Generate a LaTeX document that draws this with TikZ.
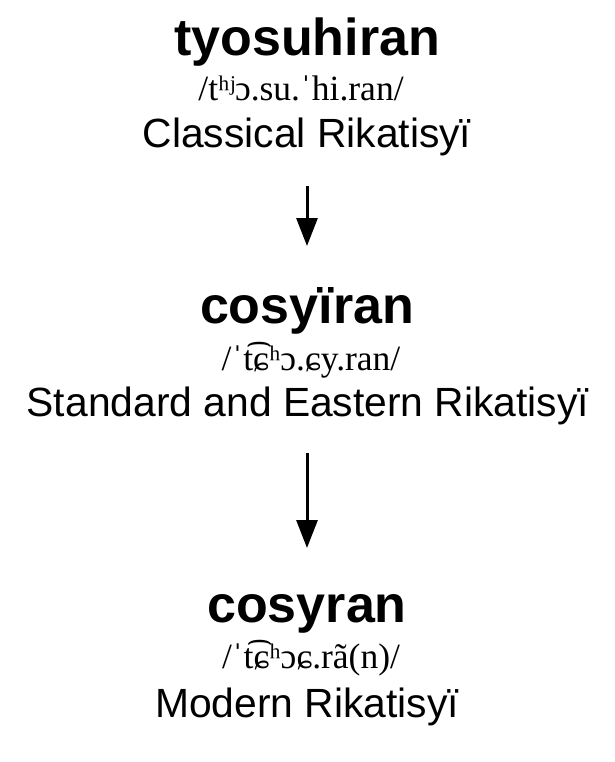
\documentclass[tikz,border=0pt]{standalone}
\usepackage{fontspec}
\setmainfont{Liberation Sans}
\newfontfamily\ipafont{Liberation Serif}
\usetikzlibrary{arrows.meta}
\tikzset{
  word/.style={anchor=base, inner sep=0pt, font=\fontsize{52}{60}\selectfont\bfseries},
  ipa/.style={anchor=base, inner sep=0pt, font=\fontsize{35.5}{40}\ipafont},
  lang/.style={anchor=base, inner sep=0pt, font=\fontsize{40.8}{46}\selectfont},
  evo/.style={line width=3pt, -{Triangle[length=28pt,width=21pt]}}
}
\begin{document}
\begin{tikzpicture}[x=1pt,y=1pt]
\useasboundingbox (0,0) rectangle (614,-762);
\node[word] (w1) at (307,-56) {tyosuhiran};
\node[ipa] (p1) at (301,-101) {/tʰʲɔ.su.ˈhi.ran/};
\node[lang] (l1) at (307,-148) {Classical Rikatisyï};
\node[word] (w2) at (307,-323) {cosyïran};
\node[ipa] (p2) at (311,-370) {/ˈt͡ɕʰɔ.ɕy.ran/};
\node[lang] (l2) at (308,-416) {Standard and Eastern Rikatisyï};
\node[word] (w3) at (307,-622) {cosyran};
\node[ipa] (p3) at (311,-668) {/ˈt͡ɕʰɔɕ.rã(n)/};
\node[lang] (l3) at (307,-717) {Modern Rikatisyï};
\coordinate (a1s) at (307,-186);
\coordinate (a1e) at (307,-246);
\coordinate (a2s) at (307,-453);
\coordinate (a2e) at (307,-548);
\draw[evo] (a1s) -- (a1e);
\draw[evo] (a2s) -- (a2e);
\end{tikzpicture}
\end{document}
